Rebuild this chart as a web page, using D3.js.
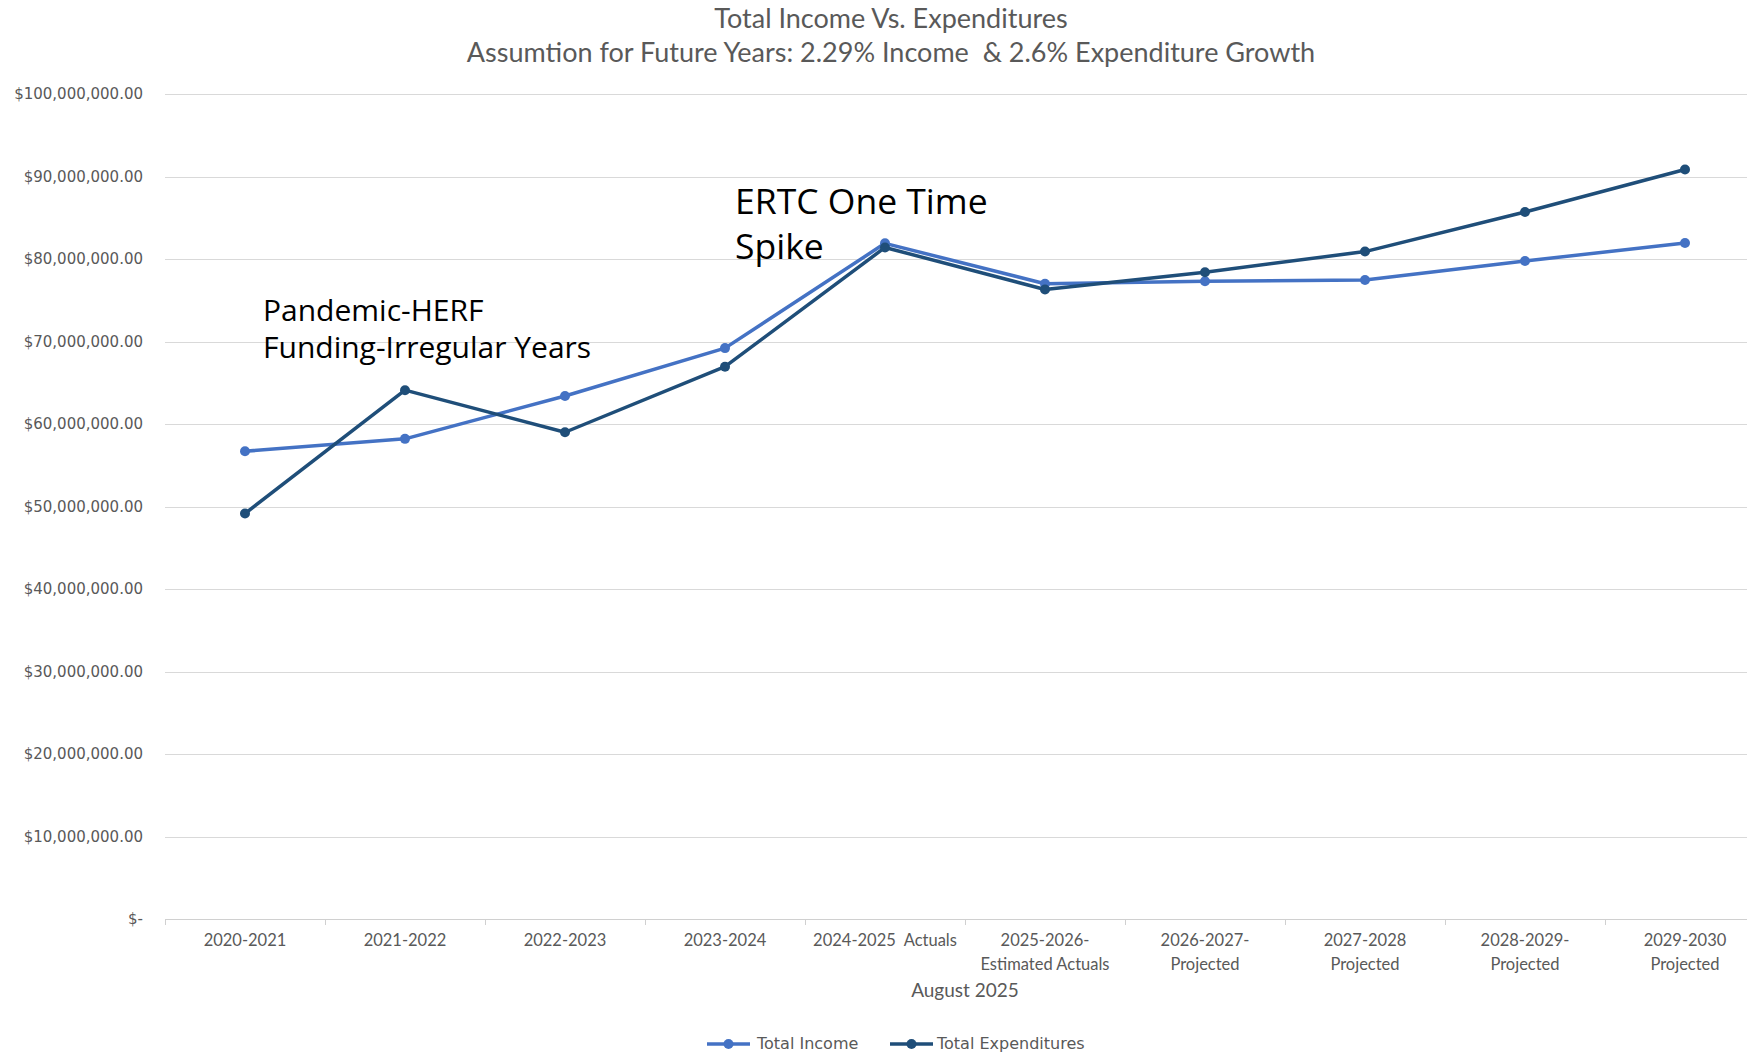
<!DOCTYPE html>
<html>
<head>
<meta charset="utf-8">
<script src="https://cdn.jsdelivr.net/npm/d3@7"></script>
<style>
  body { margin: 0; background: #fff; overflow: hidden; }
  svg { display: block; }
</style>
</head>
<body>
<script>
// fiscal years on the x axis (\n = second line of the label)
var years = ["2020-2021", "2021-2022", "2022-2023", "2023-2024", "2024-2025  Actuals",
  "2025-2026-\nEstimated Actuals", "2026-2027-\nProjected", "2027-2028\nProjected",
  "2028-2029-\nProjected", "2029-2030\nProjected"];

// values, in dollars
var income = [56.7e6, 58.2e6, 63.4e6, 69.2e6, 81.9e6, 77.0e6, 77.3e6, 77.45e6, 79.75e6, 81.95e6];
var expenditures = [49.15e6, 64.1e6, 59.0e6, 66.95e6, 81.4e6, 76.3e6, 78.4e6, 80.9e6, 85.7e6, 90.85e6];

var yTicks = [0, 10e6, 20e6, 30e6, 40e6, 50e6, 60e6, 70e6, 80e6, 90e6, 100e6];

var W = 1747, H = 1058;
var svg = d3.select("body").append("svg")
  .attr("width", W)
  .attr("height", H);

// plot runs past the right edge like the original (it was cut off)
var x = d3.scaleBand().domain(years).range([165, 1765]).padding(0);
var y = d3.scaleLinear().domain([0, 100e6]).range([919, 94]);

var fmt = d3.format(",.2f");

// gridlines
svg.append("g").selectAll("line")
  .data(yTicks.slice(1)).enter()
  .append("line")
  .attr("x1", 165).attr("x2", W)
  .attr("y1", function(d) { return Math.round(y(d)) + 0.5; })
  .attr("y2", function(d) { return Math.round(y(d)) + 0.5; })
  .attr("stroke", "#d9d9d9")
  .attr("stroke-width", 1);

// y labels
svg.append("g").selectAll("text")
  .data(yTicks).enter()
  .append("text")
  .attr("x", 143)
  .attr("y", function(d) { return y(d) + 5; })
  .attr("text-anchor", "end")
  .attr("font-family", "DejaVu Sans")
  .attr("font-size", 15)
  .attr("fill", "#595959")
  .text(function(d) { return d == 0 ? "$-" : "$" + fmt(d); });

// x axis line + ticks at category edges
svg.append("line")
  .attr("x1", 165).attr("x2", W)
  .attr("y1", 919.5).attr("y2", 919.5)
  .attr("stroke", "#d0d0d0");
svg.append("g").selectAll("line")
  .data(years).enter()
  .append("line")
  .attr("x1", function(d) { return Math.round(x(d)) + 0.5; })
  .attr("x2", function(d) { return Math.round(x(d)) + 0.5; })
  .attr("y1", 919).attr("y2", 925)
  .attr("stroke", "#d0d0d0");

// x labels
var xl = svg.append("g").selectAll("text")
  .data(years).enter()
  .append("text")
  .attr("text-anchor", "middle")
  .attr("font-family", "Lato")
  .attr("font-size", 16.5)
  .attr("fill", "#595959");
xl.each(function(d) {
  var parts = d.split("\n");
  var t = d3.select(this);
  parts.forEach(function(p, i) {
    t.append("tspan")
      .attr("x", x(d) + x.bandwidth() / 2)
      .attr("y", 946 + i * 23.5)
      .style("white-space", "pre")
      .text(p);
  });
});

// axis title
svg.append("text")
  .attr("x", 965).attr("y", 997)
  .attr("text-anchor", "middle")
  .attr("font-family", "Lato")
  .attr("font-size", 19)
  .attr("fill", "#595959")
  .text("August 2025");

// chart title
var title = svg.append("text")
  .attr("text-anchor", "middle")
  .attr("font-family", "Lato")
  .attr("font-size", 27)
  .attr("fill", "#595959");
title.append("tspan").attr("x", 891).attr("y", 28).text("Total Income Vs. Expenditures");
title.append("tspan").attr("x", 891).attr("y", 62)
  .style("white-space", "pre")
  .text("Assumtion for Future Years: 2.29% Income  & 2.6% Expenditure Growth");

// series
var series = [
  { name: "Total Income", values: income, color: "#4472c4" },
  { name: "Total Expenditures", values: expenditures, color: "#1f4e79" }
];

var line = d3.line()
  .x(function(d, i) { return x(years[i]) + x.bandwidth() / 2; })
  .y(function(d) { return y(d); });

series.forEach(function(s) {
  svg.append("path")
    .datum(s.values)
    .attr("d", line)
    .attr("fill", "none")
    .attr("stroke", s.color)
    .attr("stroke-width", 3.5)
    .attr("stroke-linejoin", "round");
  svg.append("g").selectAll("circle")
    .data(s.values).enter()
    .append("circle")
    .attr("cx", function(d, i) { return x(years[i]) + x.bandwidth() / 2; })
    .attr("cy", function(d) { return y(d); })
    .attr("r", 5)
    .attr("fill", s.color);
});

// annotations
var note1 = svg.append("text")
  .attr("font-family", "Open Sans")
  .attr("font-size", 30)
  .attr("fill", "#000");
note1.append("tspan").attr("x", 263).attr("y", 321).text("Pandemic-HERF");
note1.append("tspan").attr("x", 263).attr("y", 358).text("Funding-Irregular Years");

var note2 = svg.append("text")
  .attr("font-family", "Open Sans")
  .attr("font-size", 35.5)
  .attr("fill", "#000");
note2.append("tspan").attr("x", 735).attr("y", 214).text("ERTC One Time");
note2.append("tspan").attr("x", 735).attr("y", 259).text("Spike");

// legend
var legX = [707, 890];
var leg = svg.append("g").selectAll("g")
  .data(series).enter()
  .append("g")
  .attr("transform", function(d, i) { return "translate(" + legX[i] + ",1044)"; });
leg.append("line")
  .attr("x1", 0).attr("x2", 43)
  .attr("stroke", function(d) { return d.color; })
  .attr("stroke-width", 3.5);
leg.append("circle")
  .attr("cx", 21.5).attr("r", 5)
  .attr("fill", function(d) { return d.color; });
leg.append("text")
  .attr("x", function(d, i) { return i == 0 ? 50 : 47; })
  .attr("y", 5)
  .attr("font-family", "DejaVu Sans")
  .attr("font-size", 16)
  .attr("fill", "#595959")
  .text(function(d) { return d.name; });
</script>
</body>
</html>
